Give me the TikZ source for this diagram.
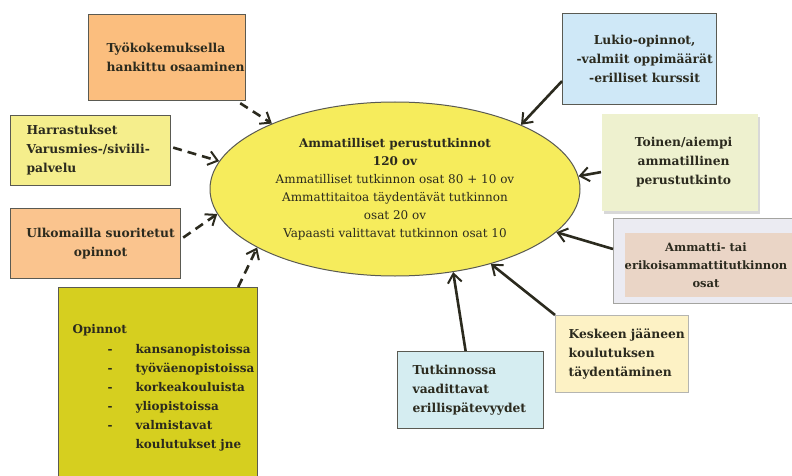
\documentclass[tikz,border=0pt]{standalone}
\usepackage{fontspec}
\setmainfont{DejaVu Serif}
\usetikzlibrary{arrows.meta,shapes.geometric,shadows}
\definecolor{ink}{HTML}{2B2A1E}
\definecolor{edge}{HTML}{5A5A52}
\definecolor{ovalfill}{HTML}{F6EC5C}
\definecolor{orangefill}{HTML}{FBBE7E}
\definecolor{peachfill}{HTML}{FAC48E}
\definecolor{paleyellow}{HTML}{F5EE8C}
\definecolor{olivefill}{HTML}{D6CF1F}
\definecolor{skyfill}{HTML}{CFE8F7}
\definecolor{sagefill}{HTML}{EEF1CF}
\definecolor{lavfill}{HTML}{EBEBF2}
\definecolor{rosefill}{HTML}{EAD5C6}
\definecolor{creamfill}{HTML}{FDF2C5}
\definecolor{aquafill}{HTML}{D5EDF1}
\tikzset{
  box/.style={draw=edge, line width=1.2pt, anchor=north west, inner sep=0pt,
    font=\fontsize{12.3}{19}\selectfont\bfseries, text=ink},
  feed/.style={line width=2.6pt, draw=ink, -{Straight Barb[length=9pt,width=14pt,line width=2pt]}},
  soft/.style={feed, dash pattern=on 9pt off 6pt},
}
\begin{document}
\begin{tikzpicture}[x=1pt,y=-1pt]
\useasboundingbox (0,0) rectangle (792,476);
\fill[white] (0,0) rectangle (792,476);

% central oval
\node[draw=edge, line width=1pt, fill=ovalfill, ellipse, minimum width=370pt,
  minimum height=174pt, inner sep=0pt, align=center, text=ink,
  font=\fontsize{12}{18}\selectfont\bfseries] (core) at (395,189)
  {Ammatilliset perustutkinnot\\120 ov\\
   {\mdseries Ammatilliset tutkinnon osat 80 + 10 ov}\\
   {\mdseries Ammattitaitoa täydentävät tutkinnon}\\
   {\mdseries osat 20 ov}\\
   {\mdseries Vapaasti valittavat tutkinnon osat 10}};

% sources on the left
\node[box, fill=orangefill, minimum width=157pt, minimum height=86pt,
  text width=157pt, align=left] (work) at (88,14)
  {\hspace*{18pt}Työkokemuksella\\\hspace*{18pt}hankittu osaaminen};
\node[box, fill=paleyellow, minimum width=160pt, minimum height=70pt,
  text width=160pt, align=left] (hobby) at (10,115)
  {\hspace*{16pt}Harrastukset\\\hspace*{16pt}Varusmies-/siviili-\\\hspace*{16pt}palvelu};
\node[box, fill=peachfill, minimum width=170pt, minimum height=70pt,
  text width=170pt, align=center] (abroad) at (10,208)
  {\hspace*{10pt}Ulkomailla suoritetut\\\hspace*{10pt}opinnot};
\node[box, fill=olivefill, minimum width=199pt, minimum height=200pt,
  text width=199pt, align=left, font=\fontsize{12}{19}\selectfont\bfseries] (studies) at (58,287)
  {\begin{tabular}{@{\hspace{14pt}}p{63pt}@{}l@{}}
   \multicolumn{2}{@{\hspace{14pt}}l@{}}{Opinnot}\\[1pt]
   \hspace*{35pt}- & kansanopistoissa\\
   \hspace*{35pt}- & työväenopistoissa\\
   \hspace*{35pt}- & korkeakouluista\\
   \hspace*{35pt}- & yliopistoissa\\
   \hspace*{35pt}- & valmistavat\\
                   & koulutukset jne
   \end{tabular}\\[26pt]};

% sources on the right
\node[box, fill=skyfill, minimum width=154pt, minimum height=91pt,
  text width=154pt, align=center] (lukio) at (562,13)
  {\hspace*{10pt}Lukio-opinnot,\\\hspace*{10pt}-valmiit oppimäärät\\\hspace*{10pt}-erilliset kurssit};
\node[box, draw=none, fill=sagefill, minimum width=156pt, minimum height=97pt,
  text width=156pt, align=center,
  drop shadow={shadow xshift=2.5pt, shadow yshift=-3pt, fill=black!30}] (other) at (601,113)
  {\hspace*{8pt}Toinen/aiempi\\\hspace*{8pt}ammatillinen\\\hspace*{8pt}perustutkinto};
\node[box, draw=edge!55, line width=1pt, fill=lavfill, minimum width=185pt,
  minimum height=85pt] (craft) at (613,218) {};
\fill[rosefill] (625,233) rectangle (792,297);
\node[font=\fontsize{11.5}{18}\selectfont\bfseries, text=ink, align=center,
  anchor=center] (crafttext) at (706,265)
  {Ammatti- tai\\erikoisammattitutkinnon\\osat};
\node[box, fill=creamfill, draw=edge!45, minimum width=133pt, minimum height=77pt,
  text width=133pt, align=left] (resume) at (555,315)
  {\hspace*{13pt}Keskeen jääneen\\\hspace*{13pt}koulutuksen\\\hspace*{13pt}täydentäminen};
\node[box, fill=aquafill, minimum width=146pt, minimum height=77pt,
  text width=146pt, align=left] (extra) at (397,351)
  {\hspace*{15pt}Tutkinnossa\\\hspace*{15pt}vaadittavat\\\hspace*{15pt}erillispätevyydet};

% dashed feeds from the left
\draw[soft] (work.south east) ++(-6,2) -- (core.152);
\draw[soft] (hobby.east) ++(2,-3) -- (core.171);
\draw[soft] (abroad.east) ++(2,-6) -- (core.188);
\draw[soft] ([xshift=-20pt]studies.north east) -- (core.203);

% solid feeds from the right
\draw[feed] ([yshift=-22pt]lukio.west) -- (core.27);
\draw[feed] ([yshift=-10pt]other.west) -- (core.4);
\draw[feed] ([yshift=12pt]craft.west) -- (core.345);
\draw[feed] (resume.north west) -- (core.322);
\draw[feed] ([xshift=-5pt]extra.north) -- (core.305);
\end{tikzpicture}
\end{document}
